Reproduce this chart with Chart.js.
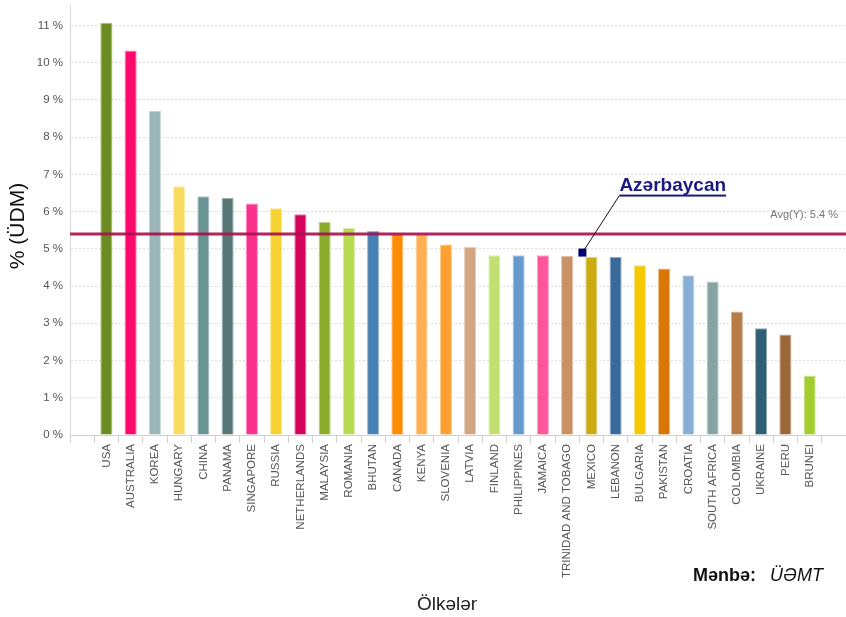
<!DOCTYPE html>
<html>
<head>
<meta charset="utf-8">
<script src="https://cdn.jsdelivr.net/npm/chart.js@4.4.1/dist/chart.umd.min.js"></script>
<style>
html,body{margin:0;padding:0;background:#fff;}
#wrap{width:846px;height:617px;position:relative;}
</style>
</head>
<body>
<div id="wrap"><canvas id="c" width="846" height="617"></canvas></div>
<script>
const countries = ["USA","AUSTRALIA","KOREA","HUNGARY","CHINA","PANAMA","SINGAPORE","RUSSIA","NETHERLANDS","MALAYSIA","ROMANIA","BHUTAN","CANADA","KENYA","SLOVENIA","LATVIA","FINLAND","PHILIPPINES","JAMAICA","TRINIDAD AND TOBAGO","MEXICO","LEBANON","BULGARIA","PAKISTAN","CROATIA","SOUTH AFRICA","COLOMBIA","UKRAINE","PERU","BRUNEI"];
const gdpShare = [11.07,10.33,8.71,6.68,6.41,6.37,6.22,6.09,5.93,5.72,5.56,5.48,5.41,5.39,5.12,5.05,4.83,4.83,4.83,4.81,4.78,4.78,4.56,4.47,4.29,4.12,3.32,2.87,2.70,1.60];
const barColors = ["#6b8c22","#ff0a6c","#9ab6b7","#f9dc5e","#6a9494","#587876","#fb2f8c","#f6d232","#d4045a","#8aac2a","#b6da52","#4682b6","#ff8c05","#ffb052","#ffa030","#d2a680","#c2e072","#6699cc","#ff569b","#c99062","#ccaa12","#38699a","#f5c905","#d87606","#88aed6","#86a4a4","#b87b46","#2f5f72","#9b6739","#a2cd30"];
const yTickValues = [0,1,2,3,4,5,6,7,8,9,10,11];
const avgValue = 5.4;
const azLabel = "Azərbaycan";
const azValue = 4.9;
const azCountryPos = 19.63;

// padded category table (empty slot at each end, as in the reference)
const labels = [""].concat(countries, [""]);
const values = [null].concat(gdpShare, [null]);
const colors = ["#fff"].concat(barColors, ["#fff"]);

function lighten(hex, f) {
  const n = parseInt(hex.slice(1), 16);
  const r = (n >> 16) & 255, g = (n >> 8) & 255, b = n & 255;
  const m = c => Math.round(c + (255 - c) * f);
  return `rgb(${m(r)},${m(g)},${m(b)})`;
}

const FONT = "'Liberation Sans', Arial, Helvetica, sans-serif";

function noPad(scale) {
  scale.paddingTop = 0; scale.paddingBottom = 0;
  scale.paddingLeft = 0; scale.paddingRight = 0;
}

const overlay = {
  id: 'overlay',
  afterDatasetsDraw(chart) {
    const {ctx, chartArea, scales} = chart;
    const y = scales.y, x = scales.x;
    // average line
    const ya = y.getPixelForValue(avgValue);
    ctx.save();
    ctx.strokeStyle = 'rgba(168,18,78,0.92)';
    ctx.lineWidth = 3;
    ctx.beginPath();
    ctx.moveTo(chartArea.left, ya);
    ctx.lineTo(chartArea.right, ya);
    ctx.stroke();
    ctx.font = "11px " + FONT;
    ctx.fillStyle = '#777';
    ctx.textAlign = 'right';
    ctx.textBaseline = 'middle';
    ctx.fillText("Avg(Y): " + avgValue + " %", 838, ya - 19);
    // Azerbaijan marker
    const mx = x.getPixelForValue(azCountryPos + 1);
    const my = y.getPixelForValue(azValue);
    ctx.font = "bold 19px " + FONT;
    const tw = ctx.measureText(azLabel).width;
    const tx = mx + 37, ty = my - 57;
    ctx.strokeStyle = '#111';
    ctx.lineWidth = 1;
    ctx.beginPath();
    ctx.moveTo(mx + 2, my - 3);
    ctx.lineTo(tx, ty + 0);
    ctx.stroke();
    ctx.fillStyle = '#00006e';
    ctx.fillRect(mx - 4, my - 4, 8, 8);
    ctx.fillStyle = '#1a1a7e';
    ctx.textAlign = 'left';
    ctx.textBaseline = 'alphabetic';
    ctx.fillText(azLabel, tx, ty - 5);
    ctx.fillRect(tx, ty - 1, tw, 2);
    ctx.restore();
  },
  afterDraw(chart) {
    const {ctx} = chart;
    ctx.save();
    // y title
    ctx.translate(18, 226);
    ctx.rotate(-Math.PI / 2);
    ctx.font = "21px " + FONT;
    ctx.fillStyle = '#111';
    ctx.textAlign = 'center';
    ctx.textBaseline = 'middle';
    ctx.fillText("% (ÜDM)", 0, 0);
    ctx.restore();
    ctx.save();
    ctx.font = "19px " + FONT;
    ctx.fillStyle = '#222';
    ctx.textAlign = 'center';
    ctx.textBaseline = 'middle';
    ctx.fillText("Ölkələr", 447, 605);
    ctx.textAlign = 'left';
    ctx.font = "bold 18px " + FONT;
    ctx.fillStyle = '#111';
    ctx.fillText("Mənbə:", 693, 576);
    ctx.font = "italic 18px " + FONT;
    ctx.fillText("ÜƏMT", 770, 576);
    ctx.restore();
  }
};

new Chart(document.getElementById('c'), {
  type: 'bar',
  data: {
    labels: labels,
    datasets: [{
      data: values,
      backgroundColor: colors,
      borderColor: colors.map(c => lighten(c, 0.45)),
      borderWidth: 1,
      barPercentage: 0.5,
      categoryPercentage: 1.0
    }]
  },
  options: {
    responsive: false,
    animation: false,
    devicePixelRatio: 1,
    layout: {padding: {top: 5, right: 0, left: 0, bottom: 0}},
    plugins: {legend: {display: false}, tooltip: {enabled: false}},
    scales: {
      x: {
        grid: {display: true, drawOnChartArea: false, drawTicks: true, tickLength: 8, color: '#d0d0d0', offset: true},
        border: {display: true, color: '#d0d0d0'},
        ticks: {
          autoSkip: false, maxRotation: 90, minRotation: 90, padding: 1,
          color: '#555', font: {family: FONT, size: 11.5}
        },
        afterFit(scale) { scale.height = 182; noPad(scale); }
      },
      y: {
        min: 0, max: 11.55,
        afterBuildTicks(scale) { scale.ticks = yTickValues.map(v => ({value: v})); },
        grid: {color: '#dcdcdc', drawTicks: false, lineWidth: 1},
        border: {display: true, color: '#d8d8d8', dash: [2, 2]},
        ticks: {
          padding: 7, color: '#555', font: {family: FONT, size: 11.5},
          callback: v => v + " %"
        },
        afterFit(scale) { scale.width = 70; noPad(scale); }
      }
    }
  },
  plugins: [overlay]
});
</script>
</body>
</html>
